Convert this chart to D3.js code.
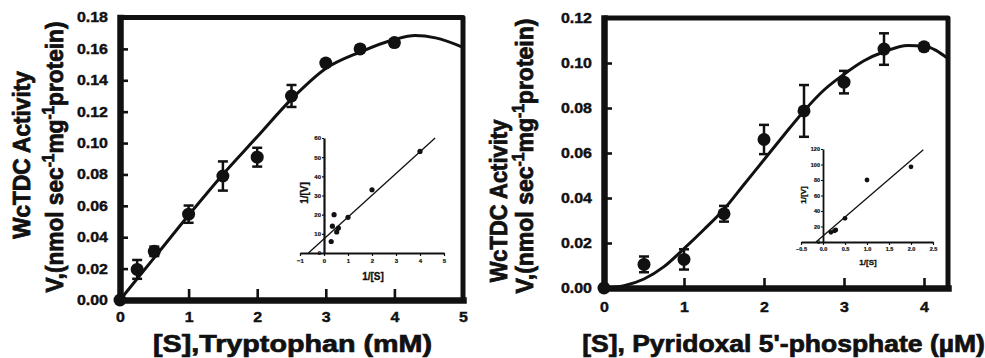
<!DOCTYPE html>
<html>
<head>
<meta charset="utf-8">
<script src="https://cdn.jsdelivr.net/npm/d3@7"></script>
<style>
body { margin: 0; background: #fff; }
svg { display: block; }
text { font-family: "Liberation Sans", Arial, sans-serif; font-weight: bold; fill: #111; }
</style>
</head>
<body>
<div id="chart"></div>
<script>
// ---- tryptophan panel (left) ----
var trpS   = [0, 0.25, 0.5, 1, 1.5, 2, 2.5, 3, 3.5, 4]
var trpV   = [0, 0.0195, 0.031, 0.0547, 0.079, 0.091, 0.130, 0.151, 0.160, 0.164]
var trpErr = [0, 0.006, 0.003, 0.0055, 0.0093, 0.006, 0.007, 0.002, 0.002, 0.002]
// fitted curve
var trpFitS = [0, 0.5, 1, 1.5, 2, 2.5, 3, 3.5, 4, 4.3, 4.6, 5]
var trpFitV = [0, 0.027, 0.054, 0.080, 0.104, 0.128, 0.1475, 0.158, 0.166, 0.1685, 0.167, 0.161]
// double reciprocal inset
var trpInvS = [0.3, 0.35, 0.42, 0.53, 0.6, 1, 2, 4]
var trpInvV = [6, 14, 20, 11, 13, 18.6, 33, 53]
var trpLineS = [-0.65, 4.63]
var trpLineV = [0, 60]

// ---- PLP panel (right) ----
var plpS   = [0, 0.5, 1, 1.5, 2, 2.5, 3, 3.5, 4]
var plpV   = [0, 0.0105, 0.0127, 0.033, 0.066, 0.0787, 0.0915, 0.1062, 0.1072]
var plpErr = [0, 0.0035, 0.0045, 0.0035, 0.0065, 0.0115, 0.005, 0.007, 0.0015]
var plpFitS = [0, 0.25, 0.5, 0.75, 1, 1.25, 1.5, 1.75, 2, 2.25, 2.5, 2.75, 3, 3.25, 3.5, 3.8, 4, 4.3]
var plpFitV = [0, 0.001, 0.004, 0.0095, 0.0175, 0.026, 0.035, 0.046, 0.057, 0.068, 0.0787, 0.088, 0.095, 0.101, 0.105, 0.1078, 0.1075, 0.102]
var plpInvS = [0.18, 0.26, 0.29, 0.5, 1, 2]
var plpInvV = [12.5, 14.5, 15.5, 30.5, 80, 97]
var plpLineS = [-0.16, 2.28]
var plpLineV = [0, 119]

var trpXTicks = [0, 1, 2, 3, 4, 5]
var trpYTicks = [0, 0.02, 0.04, 0.06, 0.08, 0.10, 0.12, 0.14, 0.16, 0.18]
var plpXTicks = [0, 1, 2, 3, 4]
var plpYTicks = [0, 0.02, 0.04, 0.06, 0.08, 0.10, 0.12]
var trpInsetXTicks = [-1, 0, 1, 2, 3, 4, 5]
var trpInsetYTicks = [0, 10, 20, 30, 40, 50, 60]
var plpInsetXTicks = [-0.5, 0, 0.5, 1, 1.5, 2, 2.5]
var plpInsetYTicks = [0, 20, 40, 60, 80, 100, 120]

var yTitle1 = [{t: "WcTDC Activity"}]
var yTitle2 = [{t: "V,(nmol sec"}, {t: "-1", sup: true}, {t: "mg"}, {t: "-1", sup: true}, {t: "protein)"}]

var ink = "#111"
var width = 985, height = 358

var svg = d3.select("#chart").append("svg")
	.attr("width", width)
	.attr("height", height)

function zip(a, b) { return a.map((d, i) => [d, b[i]]) }

function stretch(sel, k) {
	sel.each(function() {
		var w = this.getComputedTextLength()
		d3.select(this).attr("textLength", w * k).attr("lengthAdjust", "spacingAndGlyphs")
	})
}

function mainPanel(o) {
	var x = o.x, y = o.y
	var x0 = x.range()[0], x1 = x.range()[1], y0 = y.range()[0], y1 = y.range()[1]
	var g = svg.append("g")

	g.append("path")
		.attr("d", `M${x0},${y1}H${x1}V${y0}`)
		.attr("fill", "none")
		.attr("stroke", ink)
		.attr("stroke-width", 5)
		.attr("stroke-linejoin", "round")

	var ya = g.append("g")
		.attr("transform", `translate(${x0},0)`)
		.call(d3.axisLeft(y).tickValues(o.yTicks).tickSize(-8).tickSizeOuter(0).tickPadding(12).tickFormat(d3.format(".2f")))
	var xa = g.append("g")
		.attr("transform", `translate(0,${y0})`)
		.call(d3.axisBottom(x).tickValues(o.xTicks).tickSize(-o.xTick).tickSizeOuter(0).tickPadding(o.xPad).tickFormat(d3.format("d")))

	g.selectAll(".domain").attr("stroke", ink).attr("stroke-width", 6.5).attr("stroke-linecap", "square")
	g.selectAll(".tick line").attr("stroke", ink).attr("stroke-width", 2.6)
	g.selectAll(".tick text").attr("font-size", 14).attr("stroke", ink).attr("stroke-width", 0.4)
	stretch(g.selectAll(".tick text"), 1.14)

	var line = d3.line().curve(d3.curveMonotoneX).x(d => x(d[0])).y(d => y(d[1]))
	g.append("path")
		.datum(zip(o.fitS, o.fitV))
		.attr("fill", "none")
		.attr("stroke", ink)
		.attr("stroke-width", 3)
		.attr("d", line)

	var pts = o.s.map((d, i) => ({s: d, v: o.v[i], e: o.err[i]}))
	var eb = g.selectAll(".eb").data(pts.filter(d => d.e > 0)).join("g")
		.attr("stroke", ink).attr("stroke-width", 2.5)
	eb.append("line")
		.attr("x1", d => x(d.s)).attr("x2", d => x(d.s))
		.attr("y1", d => y(d.v - d.e)).attr("y2", d => y(d.v + d.e))
	eb.append("line")
		.attr("x1", d => x(d.s) - 5).attr("x2", d => x(d.s) + 5)
		.attr("y1", d => y(d.v + d.e)).attr("y2", d => y(d.v + d.e))
	eb.append("line")
		.attr("x1", d => x(d.s) - 5).attr("x2", d => x(d.s) + 5)
		.attr("y1", d => y(d.v - d.e)).attr("y2", d => y(d.v - d.e))

	g.selectAll(".pt").data(pts).join("circle")
		.attr("cx", d => x(d.s))
		.attr("cy", d => y(d.v))
		.attr("r", 6.5)
		.attr("fill", ink)
}

function insetPanel(o) {
	var x = o.x, y = o.y
	var g = svg.append("g")
	g.append("g")
		.attr("transform", `translate(0,${y.range()[0]})`)
		.call(d3.axisBottom(x).tickValues(o.xTicks).tickSize(3).tickSizeOuter(0).tickPadding(o.xPad).tickFormat(o.xFmt))
	g.append("g")
		.attr("transform", `translate(${x(0)},0)`)
		.call(d3.axisLeft(y).tickValues(o.yTicks).tickSize(2).tickSizeOuter(0).tickPadding(1).tickFormat(d3.format("d")))
	g.selectAll(".domain").attr("stroke", ink).attr("stroke-width", o.axisW)
	g.selectAll(".tick line").attr("stroke", ink).attr("stroke-width", 1.2)
	g.selectAll(".tick text").attr("font-size", o.tickFs).attr("stroke", ink).attr("stroke-width", 0.2)

	g.append("line")
		.attr("x1", x(o.lineS[0])).attr("y1", y(o.lineV[0]))
		.attr("x2", x(o.lineS[1])).attr("y2", y(o.lineV[1]))
		.attr("stroke", ink).attr("stroke-width", 1.3)

	g.selectAll(".ip").data(zip(o.s, o.v)).join("circle")
		.attr("cx", d => x(d[0]))
		.attr("cy", d => y(d[1]))
		.attr("r", o.r)
		.attr("fill", ink)

	g.append("text")
		.attr("x", o.sLab[0]).attr("y", o.sLab[1])
		.attr("text-anchor", "middle")
		.attr("font-size", o.labFs)
		.attr("stroke", ink).attr("stroke-width", 0.3)
		.text("1/[S]")
	g.append("text")
		.attr("transform", `translate(${o.vLab[0]},${o.vLab[1]}) rotate(-90)`)
		.attr("text-anchor", "middle")
		.attr("font-size", o.labFs)
		.attr("stroke", ink).attr("stroke-width", 0.3)
		.text("1/[V]")
}

function vTitle(parts, bx, cy, len, fs) {
	var t = svg.append("text").attr("font-size", fs).attr("text-anchor", "middle")
		.attr("stroke", ink).attr("stroke-width", 0.8)
	var up = false
	parts.forEach(p => {
		var dy = p.sup ? -9 : (up ? 9 : 0)
		up = !!p.sup
		t.append("tspan").attr("dy", dy).attr("font-size", p.sup ? fs * 0.68 : null).text(p.t)
	})
	var w = t.node().getBBox().width
	t.attr("transform", `translate(${bx},${cy}) rotate(-90) scale(${len / w},1)`)
}

function xTitle(str, cx, by, len, fs) {
	var t = svg.append("text").attr("font-size", fs).attr("text-anchor", "middle")
		.attr("stroke", ink).attr("stroke-width", 0.7)
		.text(str)
	var w = t.node().getComputedTextLength()
	t.attr("transform", `translate(${cx},${by}) scale(${len / w},1)`)
}

mainPanel({
	x: d3.scaleLinear().domain([0, 5]).range([120, 463]),
	y: d3.scaleLinear().domain([0, 0.18]).range([300, 17.5]),
	xTicks: trpXTicks, yTicks: trpYTicks, xTick: 11, xPad: 12,
	s: trpS, v: trpV, err: trpErr, fitS: trpFitS, fitV: trpFitV
})

mainPanel({
	x: d3.scaleLinear().domain([0, 4.3]).range([604, 948]),
	y: d3.scaleLinear().domain([0, 0.12]).range([288, 18]),
	xTicks: plpXTicks, yTicks: plpYTicks, xTick: 10, xPad: 14,
	s: plpS, v: plpV, err: plpErr, fitS: plpFitS, fitV: plpFitV
})

insetPanel({
	x: d3.scaleLinear().domain([-1, 5]).range([300, 444]),
	y: d3.scaleLinear().domain([0, 60]).range([253, 138]),
	xTicks: trpInsetXTicks, yTicks: trpInsetYTicks, xFmt: d3.format("d"), xPad: 3,
	axisW: 2.2, tickFs: 6, r: 2.6, labFs: 10,
	s: trpInvS, v: trpInvV, lineS: trpLineS, lineV: trpLineV,
	sLab: [373, 280], vLab: [308, 193]
})

insetPanel({
	x: d3.scaleLinear().domain([-0.5, 2.5]).range([801, 933]),
	y: d3.scaleLinear().domain([0, 120]).range([242, 149]),
	xTicks: plpInsetXTicks, yTicks: plpInsetYTicks, xFmt: d3.format(".1f"), xPad: 2,
	axisW: 1.8, tickFs: 5.5, r: 2.4, labFs: 8,
	s: plpInvS, v: plpInvV, lineS: plpLineS, lineV: plpLineV,
	sLab: [868, 265], vLab: [806, 195]
})

vTitle(yTitle1, 30, 155, 168, 23)
vTitle(yTitle2, 63, 157, 271, 23)
vTitle(yTitle1, 507, 201, 163, 23)
vTitle(yTitle2, 533, 156, 275, 23)

xTitle("[S],Tryptophan (mM)", 292.5, 352, 279, 23)
xTitle("[S], Pyridoxal 5'-phosphate (\u00b5M)", 783.5, 352, 403, 23)
</script>
</body>
</html>
